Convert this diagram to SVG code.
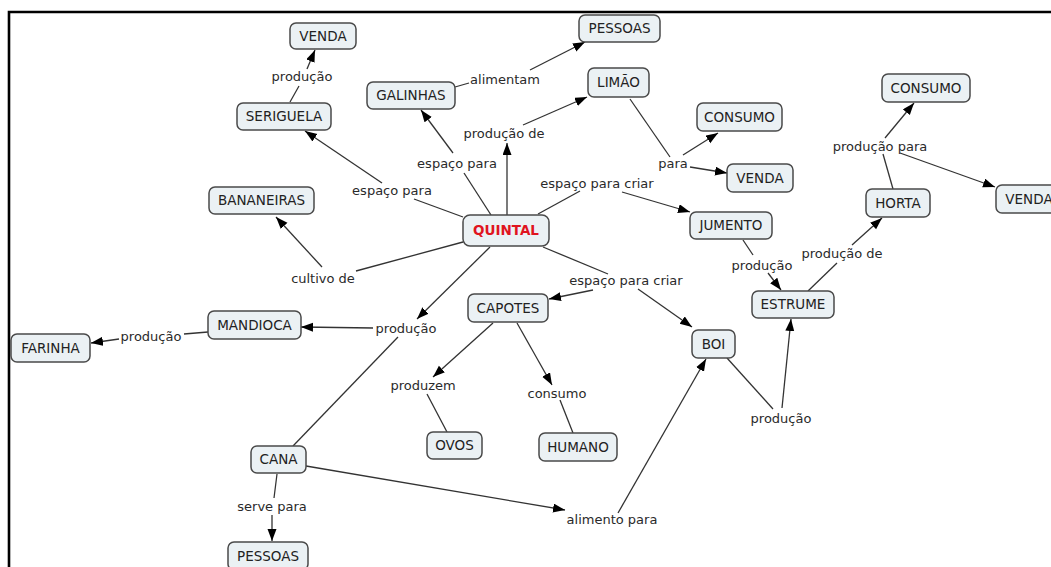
<svg xmlns="http://www.w3.org/2000/svg" width="1051" height="567" viewBox="0 0 1051 567">
  <style>
    .node rect { fill: #ebf1f4; stroke: #4a4a4a; stroke-width: 1.5; }
    .node text { font-family: "DejaVu Sans", Verdana, sans-serif; font-size: 13.5px; fill: #222; text-anchor: middle; }
    .node.root text { font-weight: bold; fill: #e0141e; }
    .lbl { font-family: "DejaVu Sans", Verdana, sans-serif; font-size: 13px; fill: #2a2a2a; text-anchor: middle; }
    .links line { stroke: #333; stroke-width: 1.3; fill: none; }
    .links line.arr { marker-end: url(#ah); }
  </style>
  <defs>
    <marker id="ah" markerUnits="userSpaceOnUse" markerWidth="13" markerHeight="10" refX="12" refY="4.5" orient="auto">
      <path d="M0,0 L12,4.5 L0,9 Z" fill="#000"/>
    </marker>
  </defs>

  <rect width="1051" height="567" fill="#fff"/>
  <!-- page frame -->
  <path d="M9,600 V12 H1060" fill="none" stroke="#000" stroke-width="2.6"/>

  <!-- connectors -->
  <g class="links" id="connectors">
    <!-- SERIGUELA - produção - VENDA -->
    <line x1="290" y1="102" x2="299" y2="86"/>
    <line class="arr" x1="307" y1="69" x2="315" y2="50"/>
    <!-- QUINTAL - espaço para - SERIGUELA -->
    <line x1="463" y1="217" x2="414" y2="199"/>
    <line class="arr" x1="382" y1="183" x2="305" y2="131"/>
    <!-- QUINTAL - espaço para - GALINHAS -->
    <line x1="491" y1="215" x2="464" y2="173"/>
    <line class="arr" x1="453" y1="153" x2="421" y2="110"/>
    <!-- QUINTAL - produção de - LIMÃO -->
    <line class="arr" x1="507" y1="215" x2="507" y2="143"/>
    <line class="arr" x1="523" y1="125" x2="587" y2="97"/>
    <!-- GALINHAS - alimentam - PESSOAS -->
    <line x1="455" y1="87" x2="469" y2="83"/>
    <line class="arr" x1="530" y1="70" x2="585" y2="42"/>
    <!-- LIMÃO - para - CONSUMO / VENDA -->
    <line x1="630" y1="99" x2="670" y2="157"/>
    <line class="arr" x1="683" y1="155" x2="718" y2="133"/>
    <line class="arr" x1="690" y1="167" x2="727" y2="173"/>
    <!-- QUINTAL - espaço para criar - JUMENTO -->
    <line x1="538" y1="214" x2="580" y2="191"/>
    <line class="arr" x1="622" y1="192" x2="690" y2="212"/>
    <!-- QUINTAL - cultivo de - BANANEIRAS -->
    <line x1="463" y1="242" x2="356" y2="271"/>
    <line class="arr" x1="322" y1="267" x2="276" y2="217"/>
    <!-- QUINTAL - produção - MANDIOCA / CANA -->
    <line class="arr" x1="490" y1="247" x2="417" y2="319"/>
    <line class="arr" x1="373" y1="328" x2="301" y2="327"/>
    <line x1="398" y1="337" x2="293" y2="446"/>
    <!-- MANDIOCA - produção - FARINHA -->
    <line x1="208" y1="332" x2="184" y2="334"/>
    <line class="arr" x1="119" y1="339" x2="91" y2="343"/>
    <!-- QUINTAL - espaço para criar - CAPOTES / BOI -->
    <line x1="543" y1="247" x2="608" y2="274"/>
    <line class="arr" x1="593" y1="290" x2="549" y2="299"/>
    <line class="arr" x1="638" y1="289" x2="692" y2="327"/>
    <!-- CAPOTES - produzem - OVOS -->
    <line class="arr" x1="493" y1="323" x2="433" y2="377"/>
    <line x1="427" y1="394" x2="447" y2="432"/>
    <!-- CAPOTES - consumo - HUMANO -->
    <line class="arr" x1="517" y1="323" x2="552" y2="385"/>
    <line x1="560" y1="400" x2="573" y2="433"/>
    <!-- JUMENTO - produção - ESTRUME -->
    <line x1="743" y1="240" x2="753" y2="255"/>
    <line class="arr" x1="768" y1="273" x2="781" y2="290"/>
    <!-- ESTRUME - produção de - HORTA -->
    <line x1="808" y1="291" x2="837" y2="263"/>
    <line class="arr" x1="852" y1="245" x2="882" y2="218"/>
    <!-- HORTA - produção para - CONSUMO / VENDA -->
    <line x1="893" y1="189" x2="883" y2="154"/>
    <line class="arr" x1="885" y1="138" x2="914" y2="103"/>
    <line class="arr" x1="900" y1="153" x2="995" y2="187"/>
    <!-- BOI - produção - ESTRUME -->
    <line x1="727" y1="358" x2="773" y2="409"/>
    <line class="arr" x1="782" y1="408" x2="791" y2="319"/>
    <!-- CANA - alimento para - BOI -->
    <line class="arr" x1="306" y1="466" x2="565" y2="510"/>
    <line class="arr" x1="618" y1="513" x2="706" y2="359"/>
    <!-- CANA - serve para - PESSOAS -->
    <line x1="277" y1="474" x2="274" y2="498"/>
    <line class="arr" x1="272" y1="515" x2="272" y2="541"/>
  </g>

  <!-- linking phrases -->
  <g id="link-labels">
    <text class="lbl" x="302" y="81">produção</text>
    <text class="lbl" x="505" y="84">alimentam</text>
    <text class="lbl" x="504" y="138">produção de</text>
    <text class="lbl" x="457" y="168">espaço para</text>
    <text class="lbl" x="392" y="195">espaço para</text>
    <text class="lbl" x="597" y="188">espaço para criar</text>
    <text class="lbl" x="673" y="168">para</text>
    <text class="lbl" x="323" y="283">cultivo de</text>
    <text class="lbl" x="151" y="341">produção</text>
    <text class="lbl" x="406" y="333">produção</text>
    <text class="lbl" x="626" y="285">espaço para criar</text>
    <text class="lbl" x="762" y="270">produção</text>
    <text class="lbl" x="842" y="258">produção de</text>
    <text class="lbl" x="880" y="151">produção para</text>
    <text class="lbl" x="423" y="390">produzem</text>
    <text class="lbl" x="557" y="398">consumo</text>
    <text class="lbl" x="781" y="423">produção</text>
    <text class="lbl" x="272" y="511">serve para</text>
    <text class="lbl" x="612" y="524">alimento para</text>
  </g>

  <!-- concepts -->
  <g class="node root" id="quintal"><rect x="463" y="215" width="86" height="31" rx="7"/><text x="506" y="235">QUINTAL</text></g>
  <g class="node" id="venda-seriguela"><rect x="290" y="23" width="66" height="26" rx="6"/><text x="323" y="41">VENDA</text></g>
  <g class="node" id="seriguela"><rect x="237" y="103" width="94" height="27" rx="6"/><text x="284" y="121">SERIGUELA</text></g>
  <g class="node" id="bananeiras"><rect x="209" y="187" width="105" height="27" rx="6"/><text x="261.5" y="205">BANANEIRAS</text></g>
  <g class="node" id="mandioca"><rect x="208" y="311" width="93" height="28" rx="6"/><text x="254.5" y="330">MANDIOCA</text></g>
  <g class="node" id="farinha"><rect x="11" y="334" width="79" height="28" rx="6"/><text x="50.5" y="353">FARINHA</text></g>
  <g class="node" id="pessoas-galinhas"><rect x="579" y="15" width="81" height="27" rx="6"/><text x="619.5" y="33">PESSOAS</text></g>
  <g class="node" id="galinhas"><rect x="367" y="82" width="88" height="27" rx="6"/><text x="411" y="100">GALINHAS</text></g>
  <g class="node" id="limao"><rect x="588" y="68" width="61" height="29" rx="6"/><text x="618.5" y="87">LIMÃO</text></g>
  <g class="node" id="consumo-limao"><rect x="697" y="103" width="85" height="28" rx="6"/><text x="739.5" y="122">CONSUMO</text></g>
  <g class="node" id="venda-limao"><rect x="727" y="164" width="66" height="28" rx="6"/><text x="760" y="183">VENDA</text></g>
  <g class="node" id="consumo-horta"><rect x="882" y="74" width="88" height="28" rx="6"/><text x="926" y="93">CONSUMO</text></g>
  <g class="node" id="venda-horta"><rect x="996" y="185" width="66" height="28" rx="6"/><text x="1029" y="204">VENDA</text></g>
  <g class="node" id="horta"><rect x="866" y="189" width="64" height="28" rx="6"/><text x="898" y="208">HORTA</text></g>
  <g class="node" id="jumento"><rect x="690" y="212" width="82" height="27" rx="6"/><text x="731" y="230">JUMENTO</text></g>
  <g class="node" id="estrume"><rect x="752" y="291" width="82" height="27" rx="6"/><text x="793" y="309">ESTRUME</text></g>
  <g class="node" id="boi"><rect x="692" y="330" width="43" height="28" rx="6"/><text x="713.5" y="349">BOI</text></g>
  <g class="node" id="capotes"><rect x="468" y="294" width="80" height="28" rx="6"/><text x="508" y="313">CAPOTES</text></g>
  <g class="node" id="cana"><rect x="251" y="446" width="55" height="27" rx="6"/><text x="278.5" y="464">CANA</text></g>
  <g class="node" id="ovos"><rect x="427" y="432" width="55" height="27" rx="6"/><text x="454.5" y="450">OVOS</text></g>
  <g class="node" id="humano"><rect x="539" y="433" width="78" height="28" rx="6"/><text x="578" y="452">HUMANO</text></g>
  <g class="node" id="pessoas-cana"><rect x="228" y="542" width="80" height="28" rx="6"/><text x="268" y="561">PESSOAS</text></g>
</svg>
